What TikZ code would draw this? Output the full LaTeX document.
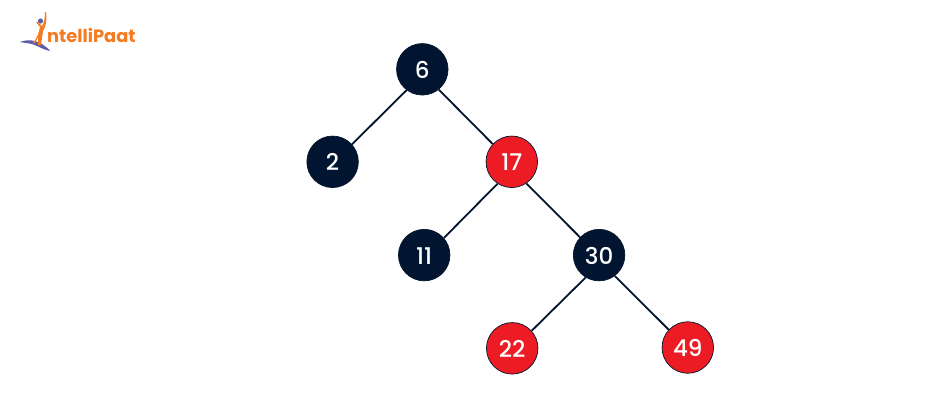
\documentclass[tikz,border=0pt]{standalone}
\usepackage{fontspec}
\setmainfont{Poppins}
\newfontfamily\medfont{Poppins Medium}
\definecolor{navy}{HTML}{021530}
\definecolor{redfill}{HTML}{ED1C24}
\definecolor{logoorange}{HTML}{F47B20}
\definecolor{logopurple}{HTML}{5F5CA8}
\tikzset{
  x=1pt,y=-1pt,
  tree/.style={circle,minimum size=51.5pt,inner sep=0pt,draw=navy,line width=0.7pt,text=white,text height=18pt,text depth=0pt,font=\medfont\fontsize{23}{25}\selectfont},
  blacknode/.style={tree,fill=navy},
  rednode/.style={tree,fill=redfill},
  edge/.style={draw=navy,line width=1.8pt},
  logotext/.style={inner sep=0pt,anchor=base west,text=logoorange,font=\fontsize{17.8}{20}\selectfont\bfseries}
}
\begin{document}
\begin{tikzpicture}
\useasboundingbox (0,0) rectangle (950,413);
\fill[white] (0,0) rectangle (950,413);
\node[blacknode] (n6) at (422.3,69.3) {6};
\node[blacknode] (n2) at (332.6,161.8) {2};
\node[rednode] (n17) at (511.8,161.8) {17};
\node[blacknode] (n11) at (424.2,255.1) {11};
\node[blacknode] (n30) at (599.1,255.1) {30};
\node[rednode] (n22) at (512.2,348.3) {22};
\node[rednode] (n49) at (687.8,347.5) {49};
\draw[edge] (n6.-127) -- (n2.42);
\draw[edge] (n6.-51) -- (n17.137.5);
\draw[edge] (n17.-123) -- (n11.41);
\draw[edge] (n17.-56) -- (n30.137.7);
\draw[edge] (n30.-121) -- (n22.42);
\draw[edge] (n30.-53) -- (n49.137);
% logo
\fill[logopurple] (20,42) .. controls (28,39) and (35,40) .. (42,44) .. controls (46,47) and (49,49) .. (50,51) .. controls (44,50) and (38,46) .. (32,44) .. controls (28,43) and (24,43) .. (20,42) -- cycle;
\fill[logoorange] (33,43) .. controls (37,38) and (39,33) .. (40,27) -- (36,22) -- (38,22) -- (42,26) .. controls (44,23) and (45,18) .. (45,12) -- (46,12) .. controls (47,20) and (46,27) .. (43,31) -- (41,45) -- (38,45) -- (38,37) -- (35,43) -- cycle;
\fill[logopurple] (40.5,21) circle (2.6);
\node[logotext] (logo) at (47,42) {ntelliPaat};
\end{tikzpicture}
\end{document}
